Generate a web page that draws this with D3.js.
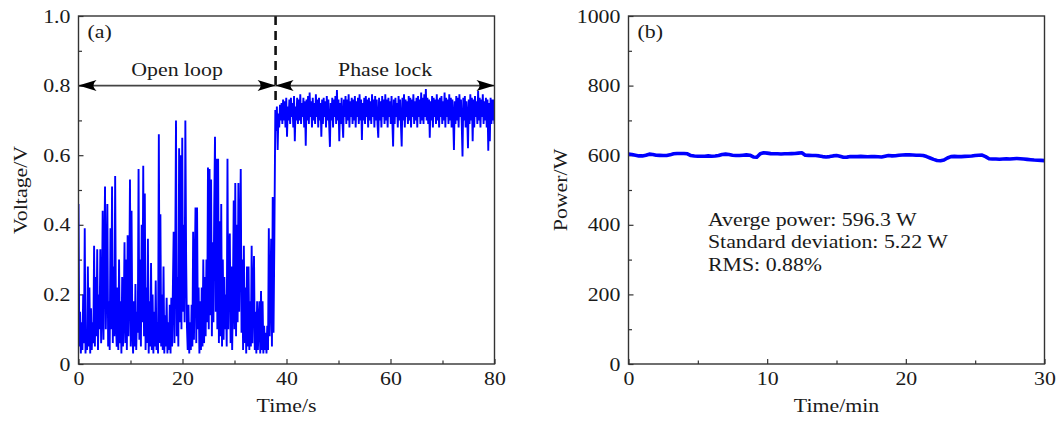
<!DOCTYPE html>
<html>
<head>
<meta charset="utf-8">
<script src="https://cdn.jsdelivr.net/npm/d3@7"></script>
<style>
  html, body { margin: 0; padding: 0; background: #fff; }
  svg { display: block; }
  text { font-family: "Liberation Serif", "Times New Roman", serif; fill: #1a1a1a; }
</style>
</head>
<body>
<svg id="chart" width="1056" height="422"></svg>
<script>
// ---------------- DATA ----------------
// Panel (a): photodetector voltage, open loop (sampled from t = 0 s, every 0.15 s)
const openStart = 0, openStep = 0.15;
const openLoopV = [
  0.46,0.05,0.15,0.03,0.12,0.04,0.20,0.06,0.39,0.03,
  0.10,0.04,0.28,0.05,0.22,0.03,0.16,0.04,0.12,0.06,
  0.34,0.05,0.25,0.08,0.33,0.04,0.20,0.10,0.33,0.06,
  0.15,0.44,0.07,0.30,0.51,0.10,0.25,0.46,0.05,0.18,
  0.04,0.39,0.10,0.51,0.06,0.28,0.08,0.54,0.12,0.05,
  0.22,0.04,0.30,0.06,0.18,0.03,0.25,0.05,0.14,0.35,
  0.06,0.30,0.04,0.37,0.08,0.20,0.53,0.05,0.44,0.10,
  0.03,0.18,0.05,0.23,0.04,0.15,0.09,0.56,0.07,0.30,
  0.05,0.40,0.12,0.57,0.08,0.49,0.04,0.22,0.06,0.36,
  0.03,0.18,0.05,0.29,0.04,0.20,0.03,0.15,0.05,0.24,
  0.04,0.12,0.03,0.66,0.06,0.43,0.05,0.20,0.04,0.28,
  0.03,0.14,0.05,0.19,0.03,0.12,0.04,0.17,0.03,0.19,
  0.05,0.22,0.38,0.06,0.30,0.70,0.08,0.25,0.05,0.62,
  0.12,0.60,0.10,0.65,0.15,0.40,0.12,0.70,0.30,0.11,
  0.04,0.17,0.03,0.12,0.04,0.17,0.05,0.38,0.07,0.25,
  0.45,0.06,0.45,0.10,0.22,0.03,0.18,0.04,0.22,0.05,
  0.30,0.06,0.25,0.08,0.30,0.12,0.565,0.10,0.56,0.14,
  0.53,0.08,0.35,0.12,0.45,0.653,0.15,0.59,0.10,0.59,
  0.06,0.41,0.08,0.46,0.05,0.30,0.07,0.25,0.10,0.20,
  0.05,0.59,0.10,0.30,0.375,0.06,0.28,0.04,0.20,0.47,
  0.10,0.52,0.08,0.40,0.12,0.52,0.15,0.35,0.56,0.09,
  0.30,0.04,0.34,0.06,0.22,0.03,0.28,0.05,0.28,0.04,
  0.18,0.05,0.34,0.06,0.20,0.31,0.04,0.15,0.03,0.18,
  0.04,0.12,0.18,0.03,0.21,0.04,0.18,0.03,0.11,0.04,
  0.09,0.03,0.11,0.04,0.39,0.08,0.20,0.36,0.05,0.48,
  0.09,0.33
];
// Panel (a): phase locked (sampled from t = 37.85 s, every 0.15 s)
const lockStart = 37.85, lockStep = 0.15;
const phaseLockV = [
  0.73,0.67,0.74,0.615,0.72,0.68,0.745,0.70,0.75,0.69,
  0.76,0.70,0.755,0.68,0.765,0.653,0.74,0.70,0.76,0.69,
  0.765,0.71,0.75,0.68,0.77,0.64,0.74,0.70,0.765,0.69,
  0.76,0.70,0.775,0.69,0.75,0.71,0.765,0.68,0.755,0.627,
  0.76,0.70,0.77,0.69,0.78,0.71,0.755,0.68,0.765,0.70,
  0.75,0.69,0.775,0.71,0.76,0.68,0.765,0.70,0.75,0.653,
  0.76,0.69,0.765,0.71,0.755,0.68,0.77,0.70,0.76,0.69,
  0.624,0.75,0.70,0.765,0.68,0.76,0.71,0.77,0.69,0.787,
  0.70,0.76,0.64,0.75,0.69,0.765,0.70,0.65,0.76,0.71,
  0.77,0.69,0.76,0.70,0.775,0.68,0.755,0.71,0.765,0.69,
  0.76,0.70,0.77,0.68,0.755,0.71,0.765,0.69,0.775,0.70,
  0.76,0.644,0.75,0.70,0.765,0.69,0.77,0.71,0.76,0.68,
  0.765,0.70,0.755,0.69,0.775,0.71,0.76,0.68,0.77,0.70,
  0.76,0.69,0.65,0.765,0.70,0.755,0.68,0.77,0.71,0.76,
  0.69,0.775,0.70,0.76,0.68,0.765,0.71,0.755,0.69,0.77,
  0.70,0.625,0.76,0.69,0.765,0.71,0.75,0.68,0.77,0.70,
  0.76,0.69,0.625,0.765,0.70,0.775,0.68,0.76,0.71,0.755,
  0.69,0.77,0.70,0.765,0.68,0.76,0.71,0.775,0.69,0.755,
  0.70,0.765,0.68,0.77,0.71,0.76,0.69,0.78,0.70,0.765,
  0.69,0.775,0.71,0.79,0.70,0.765,0.69,0.76,0.65,0.755,
  0.70,0.77,0.68,0.765,0.71,0.76,0.69,0.775,0.70,0.76,
  0.68,0.765,0.71,0.77,0.69,0.755,0.70,0.78,0.68,0.765,
  0.71,0.76,0.69,0.775,0.70,0.765,0.68,0.76,0.71,0.615,
  0.755,0.69,0.77,0.70,0.765,0.68,0.775,0.71,0.76,0.69,
  0.596,0.765,0.70,0.77,0.68,0.755,0.71,0.62,0.76,0.69,
  0.775,0.70,0.765,0.64,0.76,0.68,0.77,0.71,0.755,0.69,
  0.785,0.70,0.765,0.68,0.76,0.71,0.775,0.69,0.755,0.70,
  0.765,0.68,0.76,0.613,0.75,0.64,0.765,0.69,0.76,0.70,
  0.76,0.69
];
const lockTime = 37.9;          // instant the loop is closed (dashed line)
const arrowLevel = 0.8;         // height of the double arrows
const regionLabels = ["Open loop", "Phase lock"];

// Panel (b): output power, sampled every 0.25 min from 0 min
const powerStart = 0, powerStep = 0.25;
const powerW = [
  603,602,600,598,598,600,603,602,600,599.5,
  599,599,601,604,605,605,605,604,599,597.5,
  597,597,597,598,597,597.5,599,602,603,602,
  600,599,599,600,601,600,595,594,604,607,
  606,604.5,604,604,603.5,604,604,604.5,605,606,
  607,600,599.5,599,599,598,596,595,596,598,
  599,597,594,594.5,596,596,596,596.5,596,595.5,
  596,596,595.5,595,597,599,598,598.5,600,600.5,
  601,601,600.5,600,600,599,596,592,588,585,
  584,586,592,596,596.5,596,596,596.5,597,597.5,
  599,600,600.5,596,590,589,589,588.5,589,589.5,
  589,590,590.5,590,589,588,587,586,585.5,585,
  584.5
];
const statsText = ["Averge power: 596.3 W", "Standard deviation: 5.22 W", "RMS: 0.88%"];

// Axis ticks
const aXTicks = [0, 20, 40, 60, 80];
const aXMinor = [10, 30, 50, 70];
const aYTicks = [0, 0.2, 0.4, 0.6, 0.8, 1.0];
const aYLabels = ["0", "0.2", "0.4", "0.6", "0.8", "1.0"];
const aYMinor = [0.1, 0.3, 0.5, 0.7, 0.9];
const bXTicks = [0, 10, 20, 30];
const bXMinor = [5, 15, 25];
const bYTicks = [0, 200, 400, 600, 800, 1000];
const bYMinor = [100, 300, 500, 700, 900];

// ---------------- DRAWING ----------------
const SX = 1.15;           // horizontal stretch to mimic the wide serif of the original
const FS = 19;
const svg = d3.select("#chart");
svg.append("rect").attr("width", 1056).attr("height", 422).attr("fill", "#fff");

const defs = svg.append("defs");

function label(g, x, y, s, anchor, size) {
  return g.append("text")
    .attr("transform", `translate(${x},${y}) scale(${SX},1)`)
    .attr("text-anchor", anchor || "start")
    .attr("font-size", size || FS)
    .text(s);
}

function panel(cfg) {
  const { left, right, top, bottom } = cfg;
  const g = svg.append("g");
  const x = d3.scaleLinear().domain(cfg.xDomain).range([left, right]);
  const y = d3.scaleLinear().domain(cfg.yDomain).range([bottom, top]);

  defs.append("clipPath").attr("id", cfg.id)
    .append("rect").attr("x", left).attr("y", top)
    .attr("width", right - left).attr("height", bottom - top);

  // minor ticks
  g.append("g").attr("transform", `translate(0,${bottom})`)
    .call(d3.axisBottom(x).tickValues(cfg.xMinor).tickSizeInner(-3.5).tickSizeOuter(0).tickFormat(""))
    .call(a => a.select(".domain").remove());
  g.append("g").attr("transform", `translate(${left},0)`)
    .call(d3.axisLeft(y).tickValues(cfg.yMinor).tickSizeInner(-3.5).tickSizeOuter(0).tickFormat(""))
    .call(a => a.select(".domain").remove());

  // major ticks
  const xa = g.append("g").attr("transform", `translate(0,${bottom})`)
    .call(d3.axisBottom(x).tickValues(cfg.xTicks).tickSizeInner(-5).tickSizeOuter(0).tickPadding(8)
      .tickFormat(cfg.xFormat));
  const ya = g.append("g").attr("transform", `translate(${left},0)`)
    .call(d3.axisLeft(y).tickValues(cfg.yTicks).tickSizeInner(-5).tickSizeOuter(0).tickPadding(7)
      .tickFormat(cfg.yFormat));
  [xa, ya].forEach(a => {
    a.select(".domain").remove();
    a.selectAll("text").attr("font-size", FS).attr("font-family", "Liberation Serif")
      .attr("fill", "#1a1a1a").attr("transform", `scale(${SX},1)`);
  });
  g.selectAll(".tick line").attr("stroke", "#333").attr("stroke-width", 1.2);

  // data layer
  const data = g.append("g").attr("clip-path", `url(#${cfg.id})`);

  // frame
  g.append("rect").attr("x", left).attr("y", top)
    .attr("width", right - left).attr("height", bottom - top)
    .attr("fill", "none").attr("stroke", "#333").attr("stroke-width", 1.4);

  // axis titles
  label(g, (left + right) / 2, 412, cfg.xTitle, "middle");
  g.append("text")
    .attr("transform", `translate(${cfg.yTitleX},${(top + bottom) / 2}) rotate(-90) scale(${SX},1)`)
    .attr("text-anchor", "middle").attr("font-size", FS).text(cfg.yTitle);

  // panel tag
  label(g, left + 9, 38, cfg.tag, "start");

  return { g, x, y, data };
}

// ---- Panel (a)
const A = panel({
  id: "clipA", left: 78.5, right: 494.5, top: 16, bottom: 364,
  xDomain: [0, 80], yDomain: [0, 1],
  xTicks: aXTicks, xMinor: aXMinor, yTicks: aYTicks, yMinor: aYMinor,
  xFormat: d => String(d), yFormat: (d, i) => aYLabels[i],
  xTitle: "Time/s", yTitle: "Voltage/V", yTitleX: 27, tag: "(a)"
});

const openPts = openLoopV.map((v, i) => [openStart + i * openStep, v]);
const lockPts = phaseLockV.map((v, i) => [lockStart + i * lockStep, v]);
const allPts = openPts.concat(lockPts);
const lineA = d3.line().x(d => A.x(d[0])).y(d => A.y(d[1]));

// dashed marker for loop closing (behind data)
A.data.append("line")
  .attr("x1", A.x(lockTime)).attr("x2", A.x(lockTime))
  .attr("y1", A.y(1.0)).attr("y2", A.y(0.745))
  .attr("stroke", "#111").attr("stroke-width", 2.6).attr("stroke-dasharray", "9,6");

A.data.append("path").datum(allPts)
  .attr("d", lineA).attr("fill", "none")
  .attr("stroke", "#0000ff").attr("stroke-width", 1.9).attr("stroke-linejoin", "miter").attr("stroke-miterlimit", 2);

// double arrows
const ay = A.y(arrowLevel);
function arrowHead(g, tipX, dir) {
  // dir = +1 points right, -1 points left
  const L = 18, H = 5.5, N = 12;
  const p = `M${tipX},${ay} L${tipX - dir * L},${ay - H} Q${tipX - dir * N},${ay} ${tipX - dir * L},${ay + H} Z`;
  g.append("path").attr("d", p).attr("fill", "#000");
}
const spans = [[0, lockTime], [lockTime, 80]];
spans.forEach((s, i) => {
  const x0 = A.x(s[0]), x1 = A.x(s[1]);
  A.g.append("line").attr("x1", x0).attr("x2", x1).attr("y1", ay).attr("y2", ay)
    .attr("stroke", "#444").attr("stroke-width", 1.8);
  arrowHead(A.g, x0, -1);
  arrowHead(A.g, x1, 1);
  label(A.g, (x0 + x1) / 2, ay - 9.5, regionLabels[i], "middle");
});

// ---- Panel (b)
const B = panel({
  id: "clipB", left: 628.5, right: 1044.5, top: 16, bottom: 364,
  xDomain: [0, 30], yDomain: [0, 1000],
  xTicks: bXTicks, xMinor: bXMinor, yTicks: bYTicks, yMinor: bYMinor,
  xFormat: d => String(d), yFormat: d => String(d),
  xTitle: "Time/min", yTitle: "Power/W", yTitleX: 567, tag: "(b)"
});

const powerPts = powerW.map((v, i) => [powerStart + i * powerStep, v]);
B.data.append("path").datum(powerPts)
  .attr("d", d3.line().x(d => B.x(d[0])).y(d => B.y(d[1])))
  .attr("fill", "none").attr("stroke", "#0000ff").attr("stroke-width", 3.6)
  .attr("stroke-linejoin", "round").attr("stroke-linecap", "round");

statsText.forEach((s, i) => {
  label(B.g, B.x(5.73), 226 + i * 22.3, s, "start");
});
</script>
</body>
</html>
